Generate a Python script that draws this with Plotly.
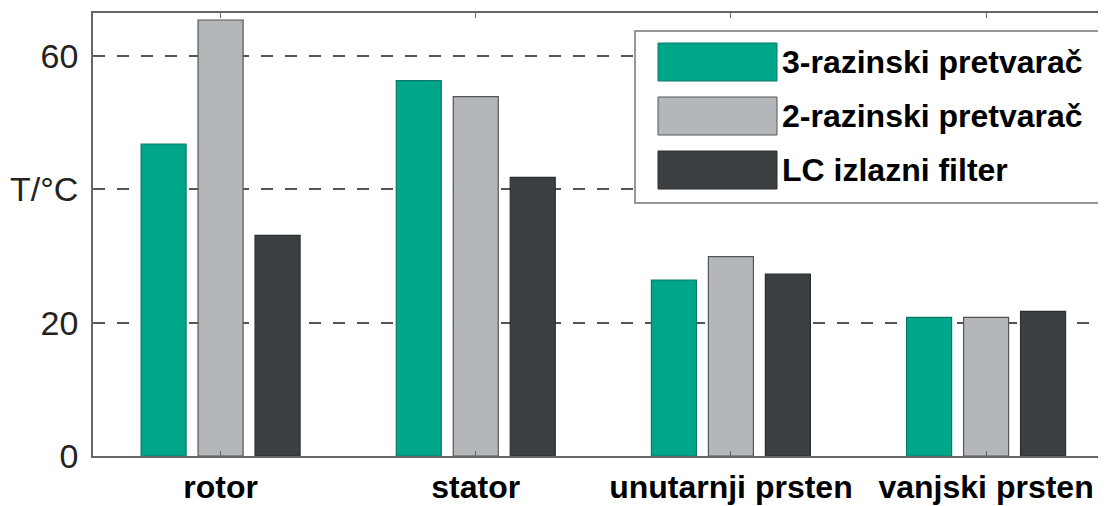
import plotly.graph_objects as go

categories = ["rotor", "stator", "unutarnji prsten", "vanjski prsten"]
series_names = ["3-razinski pretvarač", "2-razinski pretvarač", "LC izlazni filter"]
three_level = [46.8, 56.3, 26.4, 20.8]
two_level = [65.4, 53.9, 29.9, 20.8]
lc_filter = [33.1, 41.8, 27.3, 21.7]
y_tickvals = [0, 20, 40, 60]
y_ticktext = ["0", "20", "T/°C", "60"]

colors = ["#00a68a", "#b4b7b9", "#3d4042"]
edge_colors = ["#0a7a66", "#555555", "#2a2c2e"]

OFF = 8  # default page body margin
W, H = 1106 - OFF, 506 - OFF
ml, mt, mb, mr = 93 - OFF, 13 - OFF, 50, 0

fig = go.Figure()
for name, vals, c, ec in zip(series_names, [three_level, two_level, lc_filter], colors, edge_colors):
    fig.add_trace(go.Bar(x=categories, y=vals, name=name,
                         marker=dict(color=c, line=dict(color=ec, width=1.2))))

# custom legend (paper coordinates, given in page pixels)
pw = W - ml - mr
ph = H - mt - mb
def px(x):
    return (x - OFF - ml) / pw
def py(y):
    return (H - mb - (y - OFF)) / ph

shapes = [dict(type="rect", xref="paper", yref="paper",
               x0=px(635), x1=px(1099), y0=py(203), y1=py(31),
               fillcolor="white", line=dict(color="#777777", width=1.5), layer="above")]
annotations = []
rows = [62, 116, 170]
for name, c, ec, yc in zip(series_names, colors, edge_colors, rows):
    shapes.append(dict(type="rect", xref="paper", yref="paper",
                       x0=px(658), x1=px(777), y0=py(yc + 19), y1=py(yc - 19),
                       fillcolor=c, line=dict(color=ec, width=1), layer="above"))
    annotations.append(dict(xref="paper", yref="paper", x=px(780), y=py(yc),
                            xanchor="left", yanchor="middle", showarrow=False,
                            text="<b>" + name + "</b>",
                            font=dict(family="Liberation Sans, Arial", size=32, color="black")))

fig.update_layout(
    width=W, height=H,
    margin=dict(l=ml, r=mr, t=mt, b=mb, pad=0, autoexpand=False),
    plot_bgcolor="white", paper_bgcolor="white",
    barmode="group", bargap=0.33, bargroupgap=0.21,
    showlegend=False,
    shapes=shapes, annotations=annotations,
    font=dict(family="Liberation Sans, Arial", color="black"),
)
fig.update_xaxes(range=[-0.5, 3.47], showline=True, linecolor="#666666", linewidth=1.5,
                 mirror="ticks", ticks="inside", ticklen=5, tickcolor="#666666",
                 tickfont=dict(size=32, weight="bold", color="black"),
                 showgrid=False, ticklabelstandoff=2, automargin=False)
fig.update_yaxes(range=[0, 66.45], tickvals=y_tickvals, ticktext=y_ticktext,
                 showline=True, linecolor="#666666", linewidth=1.5, mirror=True,
                 ticks="inside", ticklen=5, tickcolor="#666666",
                 tickfont=dict(size=34, color="#222222"),
                 showgrid=True, gridcolor="#555555", gridwidth=1.5, griddash="12px,12px",
                 zeroline=False, ticklabelstandoff=6, automargin=False)

fig.write_html("out.html")
